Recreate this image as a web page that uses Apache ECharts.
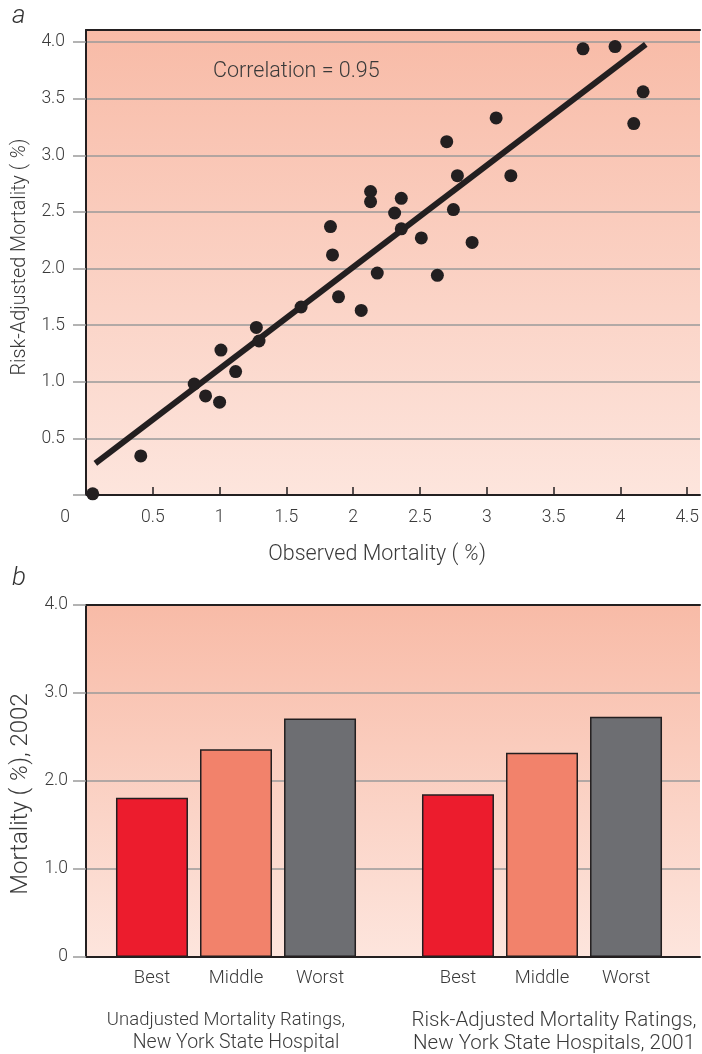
<!DOCTYPE html>
<html>
<head>
<meta charset="utf-8">
<script src="https://cdn.jsdelivr.net/npm/echarts@6/dist/echarts.min.js"></script>
<style>
html, body { margin: 0; padding: 0; background: #fff; }
#chart { width: 702px; height: 1054px; }
</style>
</head>
<body>
<div id="chart"></div>
<script>
// panel a: hospitals, observed vs risk-adjusted mortality (%)
var observed = [0.05, 0.41, 0.81, 0.895, 1.0, 1.01, 1.12, 1.275, 1.295, 1.61, 1.83, 1.845, 1.89, 2.06, 2.13, 2.13,
    2.18, 2.31, 2.36, 2.36, 2.51, 2.63, 2.70, 2.75, 2.78, 2.89, 3.07, 3.18, 3.72, 3.96, 4.10, 4.17];
var adjusted = [0.01, 0.345, 0.98, 0.875, 0.82, 1.28, 1.09, 1.48, 1.36, 1.66, 2.37, 2.12, 1.75, 1.63, 2.68, 2.59,
    1.96, 2.49, 2.62, 2.35, 2.27, 1.94, 3.12, 2.52, 2.82, 2.23, 3.33, 2.82, 3.94, 3.96, 3.28, 3.56];
var fitX = [0.07, 4.19];
var fitY = [0.28, 3.98];
var correlationText = 'Correlation = 0.95';

// panel b: mortality 2002 by rating group
var groupNames = ['Unadjusted Mortality Ratings,\nNew York State Hospital',
    'Risk-Adjusted Mortality Ratings,\nNew York State Hospitals, 2001'];
var ratingNames = ['Best', 'Middle', 'Worst'];
var ratingColors = ['#EC1C2D', '#F2826B', '#6D6E72'];
var ratingValues = [
    [1.81, 1.85],
    [2.36, 2.32],
    [2.71, 2.73]
];

var ink = '#231F20';
var gridGray = '#9a9a9a';
var txt = '#3a3a3a';
var font = 'Roboto, "Liberation Sans", sans-serif';

function bgFill() {
    return new echarts.graphic.LinearGradient(0, 0, 0, 1, [
        { offset: 0, color: '#F8BBA7' },
        { offset: 1, color: '#FDE5DD' }
    ]);
}

function frameAxis(gridIndex, position, showLine) {
    return {
        gridIndex: gridIndex, type: 'value', position: position, min: 0, max: 1,
        axisLine: { show: showLine, onZero: false, lineStyle: { color: ink, width: 2 } },
        axisTick: { show: false }, axisLabel: { show: false }, splitLine: { show: false }
    };
}

function nameRich(size) {
    return {
        n: { fontSize: size, color: txt, fontFamily: font, fontWeight: 300 },
        i: { fontSize: size, color: txt, fontFamily: font, fontWeight: 300, fontStyle: 'italic' }
    };
}

var scatterData = observed.map(function (x, k) { return [x, adjusted[k]]; });
var fitData = fitX.map(function (x, k) { return [x, fitY[k]]; });

var chart = echarts.init(document.getElementById('chart'), null, { renderer: 'canvas' });

var op = {
    backgroundColor: '#fff',
    animation: false,
    textStyle: { fontFamily: font },
    grid: [
        // a: background + frame
        { left: 86, right: 2, top: 30, bottom: 559, show: true, backgroundColor: bgFill(), borderWidth: 0 },
        // a: gridlines + y labels
        { left: 86, right: 2, top: 42, bottom: 559 },
        // a: data
        { left: 86, right: 11, top: 42, bottom: 559 },
        // b: background + frame + y axis
        { left: 86, right: 2, top: 605, bottom: 97, show: true, backgroundColor: bgFill(), borderWidth: 0 },
        // b: bars
        { left: 83, right: 7, top: 605, bottom: 97 }
    ],
    xAxis: [
        frameAxis(0, 'bottom', true),
        frameAxis(0, 'top', true),
        frameAxis(1, 'bottom', false),
        {
            gridIndex: 2, type: 'value', min: 0, max: 4.5, interval: 0.5, position: 'bottom',
            axisLine: { show: false, onZero: false },
            axisTick: { show: true, inside: true, length: 8, lineStyle: { color: ink, width: 1.5 } },
            splitLine: { show: false },
            axisLabel: {
                margin: 14, fontSize: 17.5, color: txt, fontWeight: 300,
                formatter: function (v) { return v === 0 ? '{z|0}' : String(v); },
                rich: { z: { fontSize: 17.5, color: txt, fontWeight: 300, padding: [0, 42, 0, 0] } }
            },
            name: '{n|Observed Mortality (}{i| %}{n|)}',
            nameLocation: 'middle', nameGap: 49,
            nameTextStyle: { rich: nameRich(21.5), padding: [0, 19, 0, 0] }
        },
        frameAxis(3, 'bottom', true),
        frameAxis(3, 'top', true),
        {
            gridIndex: 4, type: 'category', data: groupNames, position: 'bottom',
            axisLine: { show: false, onZero: false }, axisTick: { show: false }, splitLine: { show: false },
            axisLabel: {
                margin: 52, interval: 0,
                formatter: function (v, i) {
                    var lines = v.split('\n');
                    if (i === 0) return '{g1a|' + lines[0] + '}\n{g1b|' + lines[1] + '}';
                    return '{g2|' + lines[0] + '}\n{g2|' + lines[1] + '}';
                },
                rich: {
                    g1a: { fontSize: 18.5, lineHeight: 23, color: txt, fontWeight: 300, align: 'center', padding: [0, 20, 0, 0] },
                    g1b: { fontSize: 19.5, lineHeight: 23, color: txt, fontWeight: 300, align: 'center' },
                    g2: { fontSize: 20.5, lineHeight: 23, color: txt, fontWeight: 300, align: 'center', padding: [0, 0, 0, 24] }
                }
            }
        }
    ],
    yAxis: [
        frameAxis(0, 'left', true),
        {
            gridIndex: 1, type: 'value', min: 0, max: 4, interval: 0.5,
            axisLine: { show: false, onZero: false },
            axisTick: { show: true, length: 13, lineStyle: { color: gridGray, width: 1.5 } },
            splitLine: { show: true, lineStyle: { color: gridGray, width: 1.5 } },
            axisLabel: {
                margin: 21, fontSize: 17.5, color: txt, fontWeight: 300,
                formatter: function (v) { return v === 0 ? '' : v.toFixed(1); }
            },
            name: '{n|Risk-Adjusted Mortality (}{i| %}{n|)}',
            nameLocation: 'middle', nameGap: 50, nameRotate: 90,
            nameTextStyle: { rich: nameRich(19.8), padding: [0, 0, 0, 23] }
        },
        {
            gridIndex: 2, type: 'value', min: 0, max: 4, show: false,
            axisLine: { onZero: false }, splitLine: { show: false }
        },
        {
            gridIndex: 3, type: 'value', min: 0, max: 4, interval: 1,
            axisLine: { show: true, onZero: false, lineStyle: { color: ink, width: 2 } },
            axisTick: { show: true, length: 13, lineStyle: { color: gridGray, width: 1.5 } },
            splitLine: { show: true, showMaxLine: false, lineStyle: { color: gridGray, width: 1.5 } },
            axisLabel: {
                margin: 18, fontSize: 17.5, color: txt, fontWeight: 300,
                formatter: function (v) { return v === 0 ? '0' : v.toFixed(1); }
            },
            name: '{n|Mortality (}{i| %}{n|), 2002}',
            nameLocation: 'middle', nameGap: 50, nameRotate: 90,
            nameTextStyle: { rich: nameRich(24), padding: [0, 26, 0, 0] }
        },
        {
            gridIndex: 4, type: 'value', min: 0, max: 4, show: false,
            axisLine: { onZero: false }, splitLine: { show: false }
        }
    ],
    graphic: [
        { type: 'text', left: 12, top: 3, style: { text: 'a', fontSize: 26, fontStyle: 'italic', fontWeight: 300, fill: '#333', fontFamily: font } },
        { type: 'text', left: 12, top: 565, style: { text: 'b', fontSize: 26, fontStyle: 'italic', fontWeight: 300, fill: '#333', fontFamily: font } },
        { type: 'text', left: 213, top: 61, style: { text: correlationText, fontSize: 21.5, fontWeight: 300, fill: txt, fontFamily: font } }
    ],
    series: [
        {
            type: 'line', xAxisIndex: 3, yAxisIndex: 2, data: fitData,
            symbol: 'none', lineStyle: { color: ink, width: 6 }, z: 3
        },
        {
            type: 'scatter', xAxisIndex: 3, yAxisIndex: 2, data: scatterData,
            symbolSize: 13, itemStyle: { color: ink, opacity: 1 }, z: 4
        }
    ]
};

ratingNames.forEach(function (name, k) {
    op.series.push({
        type: 'bar', name: name, xAxisIndex: 6, yAxisIndex: 4,
        data: ratingValues[k],
        barWidth: 72, barGap: '16.7%',
        itemStyle: { color: ratingColors[k], borderColor: ink, borderWidth: 1.5 },
        label: {
            show: true, position: 'bottom', distance: 12, formatter: '{a}',
            fontSize: 18.5, color: txt, fontWeight: 300, fontFamily: font
        }
    });
});

chart.setOption(op);
</script>
</body>
</html>
